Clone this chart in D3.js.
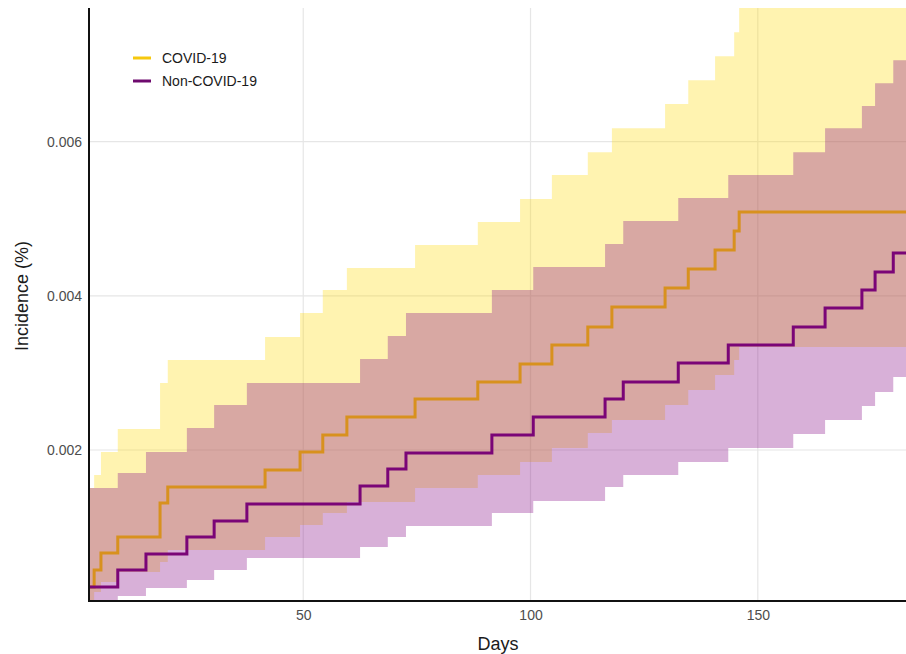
<!DOCTYPE html>
<html>
<head>
<meta charset="utf-8">
<script src="https://cdn.jsdelivr.net/npm/d3@7"></script>
<style>
  html, body { margin: 0; padding: 0; background: #ffffff; }
  svg { display: block; font-family: "Liberation Sans", Arial, Helvetica, sans-serif; }
</style>
</head>
<body>
<svg id="chart" width="906" height="654"></svg>
<script>
// ---------------- data ----------------
const seriesNames = ["COVID-19", "Non-COVID-19"];

const xDomain = [2.87, 182.6];
const yDomain = [0.0000409, 0.007735];
const xTicks = [50, 100, 150];
const yTicks = [0.002, 0.004, 0.006];
const yTickLabels = ["0.002", "0.004", "0.006"];

const covidDays  = [2.87, 4.0, 5.5, 9.2, 18.5, 20.2, 41.6, 49.3, 54.3, 59.6, 74.6, 88.4, 97.7, 104.7, 112.6, 117.9, 129.6, 134.7, 140.6, 144.8, 145.9];
const covidEst   = [0.000223, 0.000444, 0.000664, 0.000872, 0.001313, 0.001520, 0.001741, 0.001974, 0.002195, 0.002428, 0.002661, 0.002882, 0.003115, 0.003362, 0.003595, 0.003854, 0.004101, 0.004347, 0.004594, 0.004840, 0.005087];
const covidLower = [0.00003, 0.000158, 0.000288, 0.000418, 0.000547, 0.000703, 0.000872, 0.001027, 0.001183, 0.001326, 0.001507, 0.001676, 0.001844, 0.002026, 0.002220, 0.002389, 0.002584, 0.002778, 0.002973, 0.003167, 0.003336];
const covidUpper = [0.001507, 0.001676, 0.001974, 0.002272, 0.002869, 0.003167, 0.003466, 0.003777, 0.004075, 0.004361, 0.004659, 0.004957, 0.005256, 0.005567, 0.005865, 0.006176, 0.006488, 0.006799, 0.007110, 0.007420, 0.007750];

const nonDays  = [2.87, 9.2, 15.4, 24.4, 30.4, 37.6, 62.5, 68.6, 72.6, 91.5, 100.6, 116.4, 120.4, 132.5, 143.5, 157.8, 164.8, 172.9, 175.8, 179.8];
const nonEst   = [0.000223, 0.000444, 0.000651, 0.000872, 0.001079, 0.001300, 0.001533, 0.001753, 0.001961, 0.002195, 0.002428, 0.002661, 0.002882, 0.003128, 0.003362, 0.003595, 0.003842, 0.004075, 0.004309, 0.004555];
const nonLower = [0.00003, 0.000106, 0.000210, 0.000314, 0.000444, 0.000599, 0.000742, 0.000872, 0.001014, 0.001183, 0.001339, 0.001520, 0.001676, 0.001844, 0.002026, 0.002208, 0.002389, 0.002571, 0.002753, 0.002947];
const nonUpper = [0.001507, 0.001702, 0.001974, 0.002286, 0.002584, 0.002869, 0.003180, 0.003479, 0.003777, 0.004075, 0.004374, 0.004672, 0.004970, 0.005269, 0.005567, 0.005865, 0.006176, 0.006462, 0.006760, 0.007058];

// ---------------- layout & style ----------------
const W = 906, H = 654;
const plot = { left: 89, right: 906, top: 8, bottom: 601 };
const style = {
  lineColor: ["#D8911E", "#7A0577"],
  keyColor:  ["#F6C80E", "#6E0A6E"],
  fillColor: ["#FFD700", "#891089"],
  fillOpacity: [0.31, 0.33],
  grid: "#E6E6E6"
};

function buildSeries(days, est, lo, hi) {
  const pts = days.map((d, i) => ({ day: d, est: est[i], lo: lo[i], hi: hi[i] }));
  const last = pts[pts.length - 1];
  pts.push({ day: xDomain[1] + 5, est: last.est, lo: last.lo, hi: last.hi });
  return pts;
}
const series = [
  buildSeries(covidDays, covidEst, covidLower, covidUpper),
  buildSeries(nonDays, nonEst, nonLower, nonUpper)
];

const svg = d3.select("#chart");
const x = d3.scaleLinear().domain(xDomain).range([plot.left, plot.right]);
const y = d3.scaleLinear().domain(yDomain).range([plot.bottom, plot.top]);

svg.append("defs").append("clipPath").attr("id", "clip")
  .append("rect")
  .attr("x", plot.left).attr("y", plot.top)
  .attr("width", plot.right - plot.left).attr("height", plot.bottom - plot.top);

// grid
const grid = svg.append("g");
grid.selectAll("line.gx").data(xTicks).join("line")
  .attr("x1", d => x(d)).attr("x2", d => x(d))
  .attr("y1", plot.top).attr("y2", plot.bottom)
  .attr("stroke", style.grid).attr("stroke-width", 1.2);
grid.selectAll("line.gy").data(yTicks).join("line")
  .attr("y1", d => y(d)).attr("y2", d => y(d))
  .attr("x1", plot.left).attr("x2", plot.right)
  .attr("stroke", style.grid).attr("stroke-width", 1.2);

const g = svg.append("g").attr("clip-path", "url(#clip)");

const area = d3.area()
  .x(d => x(d.day)).y0(d => y(d.lo)).y1(d => y(d.hi))
  .curve(d3.curveStepAfter);
const line = d3.line()
  .x(d => x(d.day)).y(d => y(d.est))
  .curve(d3.curveStepAfter);

series.forEach((s, i) => {
  g.append("path").datum(s).attr("d", area)
    .attr("fill", style.fillColor[i]).attr("fill-opacity", style.fillOpacity[i]);
});
series.forEach((s, i) => {
  g.append("path").datum(s).attr("d", line)
    .attr("fill", "none").attr("stroke", style.lineColor[i])
    .attr("stroke-width", 3).attr("stroke-linejoin", "miter");
});

// axes
const xAxis = d3.axisBottom(x).tickValues(xTicks).tickSize(0).tickPadding(9);
const yAxis = d3.axisLeft(y).tickValues(yTicks).tickSize(0).tickPadding(7)
  .tickFormat((d, i) => yTickLabels[i]);

const gx = svg.append("g").attr("transform", `translate(0,${plot.bottom})`).call(xAxis);
gx.select(".domain").remove();
gx.selectAll("text").attr("font-size", 14).attr("fill", "#4D4D4D")
  .attr("font-family", "Liberation Sans, Arial, sans-serif");

const gy = svg.append("g").attr("transform", `translate(${plot.left},0)`).call(yAxis);
gy.select(".domain").remove();
gy.selectAll("text").attr("font-size", 14).attr("fill", "#4D4D4D")
  .attr("font-family", "Liberation Sans, Arial, sans-serif");

svg.append("line")
  .attr("x1", plot.left).attr("x2", plot.left)
  .attr("y1", plot.top).attr("y2", plot.bottom + 1)
  .attr("stroke", "#111").attr("stroke-width", 2);
svg.append("line")
  .attr("x1", plot.left - 1).attr("x2", plot.right)
  .attr("y1", plot.bottom).attr("y2", plot.bottom)
  .attr("stroke", "#111").attr("stroke-width", 2);

// axis titles
svg.append("text").attr("x", 498).attr("y", 650)
  .attr("text-anchor", "middle").attr("font-size", 18).attr("fill", "#1a1a1a")
  .text("Days");
svg.append("text")
  .attr("transform", "translate(28,296) rotate(-90)")
  .attr("text-anchor", "middle").attr("font-size", 18).attr("fill", "#1a1a1a")
  .text("Incidence (%)");

// legend
const legend = svg.append("g");
seriesNames.forEach((name, i) => {
  const ly = 58 + i * 23;
  legend.append("line")
    .attr("x1", 133).attr("x2", 151).attr("y1", ly).attr("y2", ly)
    .attr("stroke", style.keyColor[i]).attr("stroke-width", 3);
  legend.append("text")
    .attr("x", 162).attr("y", ly + 5)
    .attr("font-size", 14).attr("fill", "#1a1a1a")
    .text(name);
});
</script>
</body>
</html>
